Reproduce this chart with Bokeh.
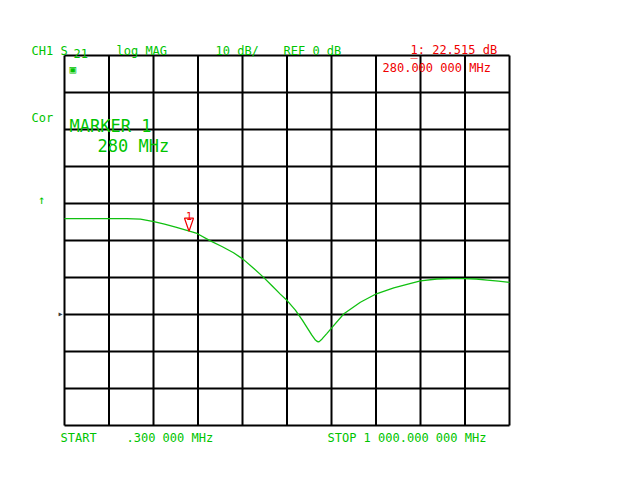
from bokeh.plotting import figure
from bokeh.models import Range1d
from bokeh.core.properties import value
from bokeh.embed import file_html
from bokeh.resources import INLINE

# ---- data ----
freq_mhz = [0.3, 50, 100, 140, 171, 201, 225, 250, 279, 298, 328, 355, 380, 402, 425, 447,
            467, 485, 501, 519, 535, 546, 556, 564, 568, 572, 579, 590, 602, 628,
            665, 701, 740, 774, 800, 837, 870, 897, 925, 950, 975, 1000]
s21_db = [25.9, 25.9, 25.9, 25.9, 25.8, 25.1, 24.4, 23.6, 22.6, 21.9, 19.9, 18.3, 16.7, 14.9,
          12.5, 10.1, 7.7, 5.5, 3.7, 1.2, -1.6, -3.7, -5.6, -6.9, -7.3, -7.4, -6.6, -5.1,
          -3.4, 0.2, 3.3, 5.6, 7.2, 8.3, 9.1, 9.6, 9.7, 9.7, 9.6, 9.3, 9.0, 8.7]
start_mhz = 0.3
stop_mhz = 1000.0
ref_db = 0.0
db_per_div = 10.0
ref_div_from_top = 7
marker_mhz = 280.0
marker_db = 22.515

y_top = ref_db + ref_div_from_top * db_per_div
y_bot = y_top - 10 * db_per_div

GREEN = "#00c400"
RED = "#f00000"
FONT = "DejaVu Sans Mono"

# graticule placement on the canvas (pixels)
FL, FR, FT, FB = 64, 509, 55, 425
W, H = 632, 472
XPX = (stop_mhz - start_mhz) / (FR - FL)   # MHz per pixel
YPX = (y_top - y_bot) / (FB - FT)          # dB per pixel


def fx(px):
    return start_mhz + (px - FL) * XPX


def fy(py):
    return y_top - (py - FT) * YPX


p = figure(width=W, height=H, output_backend="svg", toolbar_location=None,
           x_range=Range1d(fx(0), fx(W)), y_range=Range1d(fy(H), fy(0)),
           min_border=0, x_axis_type=None, y_axis_type=None)
p.background_fill_color = "white"
p.border_fill_color = "white"
p.outline_line_color = None
p.grid.visible = False

# graticule: 10 x 10 divisions
step = (stop_mhz - start_mhz) / 10
xs = [start_mhz + i * step for i in range(11)]
ys = [y_bot + j * db_per_div for j in range(11)]
p.segment(x0=xs, y0=[y_bot] * 11, x1=xs, y1=[y_top] * 11,
          line_color="black", line_width=2)
p.segment(x0=[start_mhz] * 11, y0=ys, x1=[stop_mhz] * 11, y1=ys,
          line_color="black", line_width=2)

p.line(freq_mhz, s21_db, line_color="#10c010", line_width=1.3)

# marker: narrow open triangle with its tip on the trace, "1" above it
p.patch(x=[marker_mhz - 4.5 * XPX, marker_mhz + 4.5 * XPX, marker_mhz],
        y=[marker_db + 13 * YPX, marker_db + 13 * YPX, marker_db],
        fill_color=None, line_color=RED, line_width=1.2)
p.text(x=[marker_mhz], y=[marker_db + 13 * YPX], text=["1"], text_color=RED,
       text_font=value(FONT), text_font_size="10px", text_align="center",
       text_baseline="alphabetic", y_offset=-2)


def lab(txt, px, py, color=GREEN, size="12px", align="left", baseline="alphabetic"):
    p.text(x=[fx(px)], y=[fy(py)], text=[txt], text_color=color,
           text_font=value(FONT), text_font_size=size, text_align=align,
           text_baseline=baseline)


lab("CH1 S", 31, 50)
lab("21", 73, 53)
lab("log MAG", 116, 50)
lab("10 dB/", 215, 50)
lab("REF 0 dB", 283, 50)
lab("1: 22.515 dB", 410, 49, color=RED)
lab("_", 410, 51, color=RED)
lab("280.000 000 MHz", 382, 67, color=RED)
lab("▣", 69, 69, size="11px")
lab("Cor", 31, 117)
lab("MARKER 1", 69, 125, size="17px")
lab("280 MHz", 97, 145, size="17px")
lab("↑", 41, 199, size="12px", align="center", baseline="middle")
lab("▸", 60, 313, color="#404040", size="10px", align="center", baseline="middle")
lab("START", 60, 437)
lab(".300 000 MHz", 126, 437)
lab("STOP 1 000.000 000 MHz", 327, 437)

open("out.html", "w").write(file_html(p, INLINE))
